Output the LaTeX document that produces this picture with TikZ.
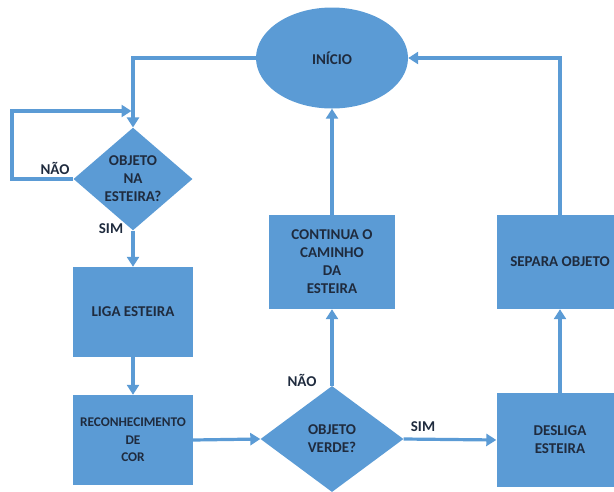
\documentclass[tikz,border=0pt]{standalone}
\usepackage{fontspec}
\setmainfont{Carlito}
\usetikzlibrary{shapes.geometric,arrows.meta}
\definecolor{fluxo}{HTML}{5B9BD5}
\definecolor{texto}{HTML}{1F2B3E}
\begin{document}
\begin{tikzpicture}[
  x=1pt, y=-1pt,
  every node/.style={font=\bfseries\fontsize{15}{18}\selectfont, text=texto, align=center, inner sep=0pt},
  caixa/.style={rectangle, fill=fluxo, minimum width=#1, minimum height=94pt},
  decisao/.style={diamond, fill=fluxo},
  seta/.style={draw=fluxo, line width=3.2pt, -{Triangle[length=10pt,width=12pt]}}
]
\useasboundingbox (0,0) rectangle (614,491);
\clip (0,0) rectangle (614,491);

\node[ellipse, fill=fluxo, minimum width=152pt, minimum height=101pt] (inicio) at (332,58) {INÍCIO};
\node[decisao, minimum width=119pt, minimum height=88pt] (objeto) at (133,179) {OBJETO\\NA\\ESTEIRA?};
\node[caixa=120pt, minimum height=90pt] (liga) at (133,312) {LIGA ESTEIRA};
\node[caixa=120pt, minimum height=90pt, font=\bfseries\fontsize{13.3}{17.5}\selectfont] (recon) at (133,440) {RECONHECIMENTO\\DE\\COR};
\node[decisao, minimum width=143pt, minimum height=106pt] (verde) at (332,439) {OBJETO\\VERDE?};
\node[caixa=126pt] (continua) at (332,262) {CONTINUA O\\CAMINHO\\DA\\ESTEIRA};
\node[caixa=127pt] (desliga) at (560,440) {DESLIGA\\ESTEIRA};
\node[caixa=127pt] (separa) at (560,262) {SEPARA OBJETO};

\node (naoobj) at (55,168) {NÃO};
\node (simobj) at (111,229) {SIM};
\node (naoverde) at (302,380) {NÃO};
\node (simverde) at (423,427) {SIM};

\coordinate (volta) at (12,111);
\coordinate (junta) at (131.5,111);

\draw[seta] (inicio.west) -| (objeto.north);
\draw[seta] (objeto.west) -| (volta) -- (junta);
\draw[seta] (objeto.south) -- (liga.north);
\draw[seta] (liga.south) -- (recon.north);
\draw[seta] (recon.east) -- (verde.west);
\draw[seta] (verde.north) -- (continua.south);
\draw[seta] (continua.north) -- (inicio.south);
\draw[seta] (verde.east) -- (desliga.west);
\draw[seta] (desliga.north) -- (separa.south);
\draw[seta] (separa.north) |- (inicio.east);

\end{tikzpicture}
\end{document}
